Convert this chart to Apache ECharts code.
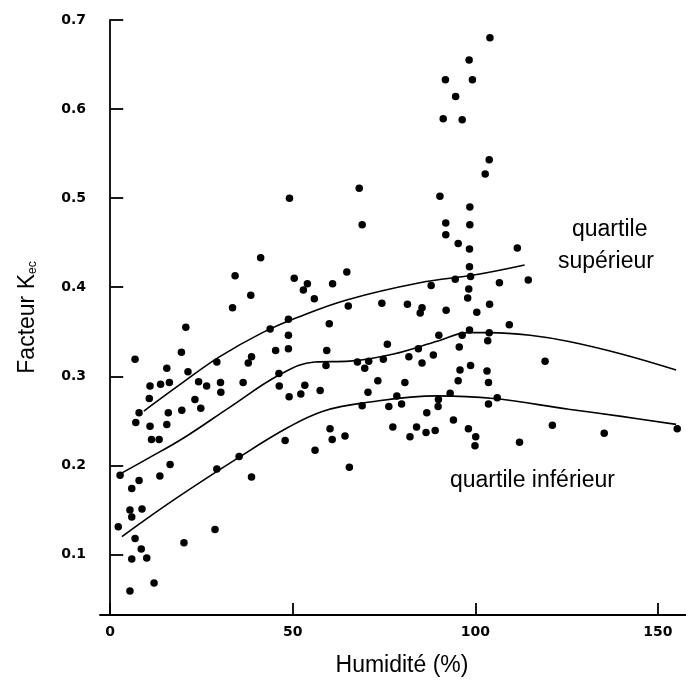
<!DOCTYPE html>
<html>
<head>
<meta charset="utf-8">
<script src="https://cdn.jsdelivr.net/npm/echarts@6/dist/echarts.min.js"></script>
<style>
html,body{margin:0;padding:0;background:#fff;}
#chart{width:686px;height:683px;}
</style>
</head>
<body>
<div id="chart"></div>
<script>
// Observations: [humidité %, facteur Kec]
const observations = [
  [2.2,0.131],[2.7,0.189],[5.4,0.059],[5.9,0.095],[5.4,0.150],[5.9,0.142],[5.9,0.174],[6.8,0.118],
  [6.8,0.319],[7.0,0.248],[7.9,0.259],[7.9,0.183],[8.5,0.106],[8.7,0.151],[10.0,0.096],[10.9,0.289],
  [10.7,0.275],[10.9,0.244],[11.3,0.229],[12.0,0.068],[13.4,0.229],[13.6,0.188],[13.8,0.291],[15.5,0.309],
  [15.5,0.246],[15.9,0.259],[16.2,0.293],[16.4,0.201],[19.5,0.327],[19.6,0.262],[20.2,0.113],[20.7,0.355],
  [21.3,0.305],[23.2,0.274],[24.2,0.294],[24.8,0.264],[26.4,0.289],[28.7,0.128],[29.2,0.316],[29.2,0.196],
  [30.2,0.293],[30.3,0.282],
  [33.5,0.377],[34.2,0.413],[35.3,0.210],[36.4,0.293],[37.8,0.315],[38.7,0.322],[38.5,0.391],[38.7,0.187],
  [41.2,0.433],[43.8,0.353],[45.3,0.329],[46.2,0.303],[46.3,0.289],[47.9,0.228],[48.8,0.364],[48.8,0.346],
  [48.8,0.331],[49.0,0.277],[49.1,0.500],[50.4,0.410],[52.2,0.280],[52.9,0.397],[54.0,0.404],[53.3,0.290],
  [55.9,0.387],[56.1,0.217],[57.5,0.284],[60.9,0.404],[60.0,0.359],[59.3,0.329],[59.1,0.312],[60.2,0.241],
  [60.8,0.229],[64.3,0.233],[64.8,0.417],[65.2,0.379],[65.5,0.198],
  [67.7,0.316],[68.2,0.511],[69.0,0.470],[69.7,0.309],[70.8,0.317],[69.0,0.267],[70.6,0.282],[73.3,0.295],
  [74.4,0.382],[74.8,0.319],[75.9,0.336],[76.3,0.266],[77.4,0.243],[78.5,0.278],[79.8,0.269],[80.7,0.293],
  [81.4,0.381],[81.8,0.322],[82.1,0.232],[83.9,0.243],[84.4,0.331],[85.4,0.377],[84.9,0.371],[85.4,0.315],
  [86.5,0.237],[86.7,0.259],[87.9,0.402],[88.5,0.324],[89.0,0.239],[89.9,0.274],[89.8,0.266],[90.0,0.346],
  [90.3,0.502],[91.2,0.589],[91.8,0.633],[91.9,0.472],[91.9,0.459],[92.0,0.374],[93.1,0.281],[94.0,0.251],
  [94.5,0.409],[94.6,0.614],[95.3,0.449],[95.6,0.333],[95.8,0.307],[95.3,0.295],[96.4,0.346],[96.4,0.588],
  [97.9,0.388],[98.2,0.398],[98.3,0.655],[98.4,0.443],[98.4,0.423],[98.5,0.490],[98.5,0.470],[98.7,0.412],
  [98.4,0.352],[98.7,0.312],[98.1,0.241],[99.2,0.633],[100.1,0.232],[99.9,0.222],[100.4,0.372],[102.7,0.527],
  [103.8,0.543],[104.0,0.680],[103.9,0.381],[103.8,0.349],[103.4,0.340],[103.2,0.306],[103.6,0.293],[103.6,0.269],
  [106.0,0.276],[106.6,0.405],[109.3,0.358],[111.5,0.444],[112.1,0.226],[114.5,0.408],[119.1,0.317],[121.1,0.245],
  [135.3,0.236],[155.3,0.241]
];

// Fitted curves
const quartileSuperieur = [[9.2,0.261],[20.2,0.294],[30,0.322],[41.7,0.349],[51.2,0.366],[65,0.386],[84.8,0.405],[100,0.414],[113.5,0.425]];
const mediane = [[2.1,0.189],[10,0.207],[20.2,0.231],[33,0.266],[46.5,0.302],[56,0.316],[65.6,0.317],[77.6,0.325],[90,0.340],[98,0.349],[104,0.349],[115,0.346],[125.6,0.339],[140,0.325],[155,0.307]];
const quartileInferieur = [[3.2,0.120],[17.7,0.162],[34.5,0.207],[48.9,0.243],[58.5,0.261],[69.2,0.270],[89.6,0.278],[105,0.275],[125.6,0.263],[140,0.255],[155,0.246]];

const xTicks = [0, 50, 100, 150];
const yTicks = [0.1, 0.2, 0.3, 0.4, 0.5, 0.6, 0.7];

const chart = echarts.init(document.getElementById('chart'));
const FONT = 'Liberation Sans, Arial, sans-serif';
const lineStyle = {color: '#000', width: 1.6};
const tickLabel = {color: '#000', fontFamily: 'DejaVu Sans, sans-serif', fontWeight: 'bold', fontSize: 14};

chart.setOption({
  backgroundColor: '#fff',
  animation: false,
  grid: {left: 100, right: 0, top: 20, bottom: 68},
  xAxis: {
    type: 'value', min: -2.8, max: 157.7,
    name: 'Humidité (%)', nameLocation: 'middle', nameGap: 39,
    nameTextStyle: {color: '#000', fontSize: 23, fontFamily: FONT, padding: [0, 0, 0, 18]},
    axisLine: {show: true, lineStyle: {color: '#000', width: 1.8}},
    axisTick: {show: true, inside: true, length: 12, customValues: xTicks, lineStyle: {color: '#000', width: 1.8}},
    axisLabel: Object.assign({customValues: xTicks, margin: 10}, tickLabel),
    splitLine: {show: false}
  },
  yAxis: {
    type: 'value', min: 0.032, max: 0.7,
    name: '{a|Facteur K}{b|ec}', nameLocation: 'middle', nameGap: 61, nameRotate: 90,
    nameTextStyle: {color: '#000', fontFamily: FONT,
      rich: {a: {fontSize: 23, color: '#000', fontFamily: FONT},
             b: {fontSize: 12, color: '#000', verticalAlign: 'bottom', padding: [10, 0, 0, 0], fontFamily: FONT}}},
    axisLine: {show: true, lineStyle: {color: '#000', width: 1.8}},
    axisTick: {show: true, inside: true, length: 13, customValues: yTicks, lineStyle: {color: '#000', width: 1.8}},
    axisLabel: Object.assign({customValues: yTicks, margin: 14, formatter: v => v.toFixed(1)}, tickLabel),
    splitLine: {show: false}
  },
  series: [
    {type: 'scatter', data: observations, symbol: 'circle', symbolSize: 7.5, itemStyle: {color: '#000', opacity: 1}, z: 3},
    {type: 'line', data: quartileSuperieur, smooth: 0.4, showSymbol: false, lineStyle: lineStyle, z: 2},
    {type: 'line', data: mediane, smooth: 0.4, showSymbol: false, lineStyle: lineStyle, z: 2},
    {type: 'line', data: quartileInferieur, smooth: 0.4, showSymbol: false, lineStyle: lineStyle, z: 2}
  ],
  graphic: [
    {type: 'text', left: 572, top: 218, style: {text: 'quartile', fontSize: 23, fill: '#000', fontFamily: FONT}},
    {type: 'text', left: 558, top: 250, style: {text: 'supérieur', fontSize: 23, fill: '#000', fontFamily: FONT}},
    {type: 'text', left: 450, top: 469, style: {text: 'quartile inférieur', fontSize: 23, fill: '#000', fontFamily: FONT}}
  ]
});
</script>
</body>
</html>
